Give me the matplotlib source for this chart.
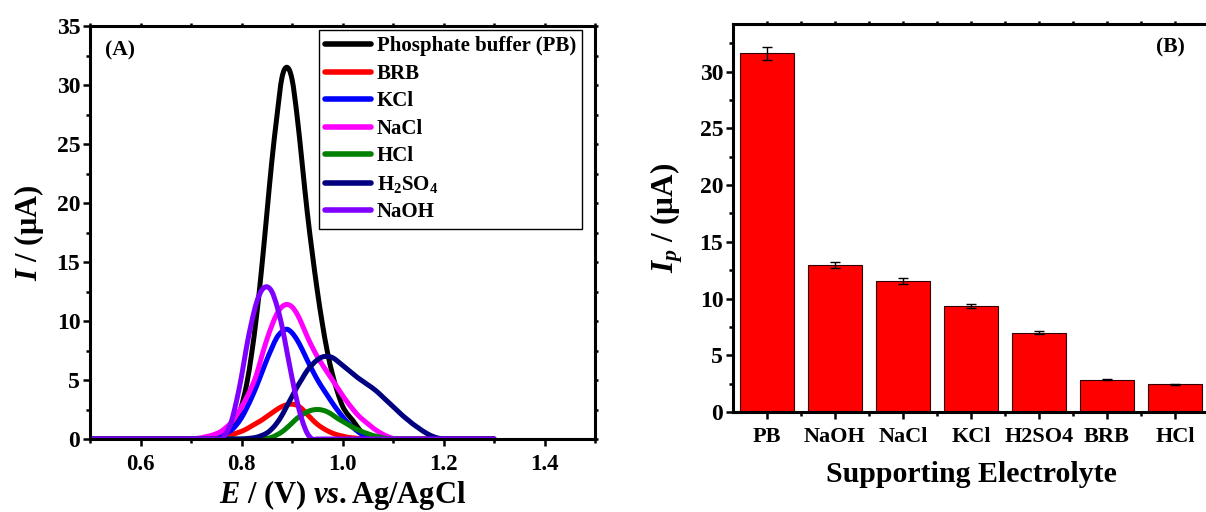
import numpy as np
import matplotlib
matplotlib.use("Agg")
import matplotlib.pyplot as plt
from matplotlib.path import Path
from matplotlib.patches import PathPatch
from matplotlib.ticker import MultipleLocator, FixedLocator

plt.rcParams["font.family"] = ["Liberation Serif", "DejaVu Serif"]
plt.rcParams["font.weight"] = "bold"
plt.rcParams["mathtext.fontset"] = "custom"
plt.rcParams["mathtext.rm"] = "Liberation Serif:bold"
plt.rcParams["mathtext.bf"] = "Liberation Serif:bold"
plt.rcParams["mathtext.it"] = "Liberation Serif:italic:bold"

# --- panel A: DPV curves, potential grid 0.70 .. 1.20 V ---
potential = np.round(np.arange(0.70, 1.2001, 0.01), 2)

i_pb = [0, 0, 0, 0, 0, 0, 0,
        0.3, 0.8, 1.6, 2.8, 4.6, 7.2, 10.5, 14.5, 19.0, 23.5, 27.3, 30.6, 31.5,
        30.5, 27.4, 23.4, 19.3, 15.8, 12.6, 9.8, 7.4, 5.5, 4.0, 2.8, 2.1, 1.6,
        1.0, 0.5, 0.2,
        0, 0, 0, 0, 0, 0, 0, 0, 0, 0, 0, 0, 0, 0, 0]
i_brb = [0, 0, 0, 0,
         0.05, 0.1, 0.15, 0.25, 0.35, 0.5, 0.65, 0.85, 1.1, 1.35, 1.6, 1.9,
         2.2, 2.5, 2.75, 2.9, 2.95, 2.85, 2.55, 2.1, 1.65, 1.25, 0.95, 0.7,
         0.5, 0.35, 0.25, 0.15, 0.1, 0.05,
         0, 0, 0, 0, 0, 0, 0, 0, 0, 0, 0, 0, 0, 0, 0, 0, 0]
i_kcl = [0, 0, 0, 0,
         0.05, 0.15, 0.3, 0.5, 0.75, 1.2, 1.8, 2.6, 3.5, 4.5, 5.6, 6.7, 7.7,
         8.6, 9.1, 9.3, 9.0, 8.4, 7.6, 6.7, 5.85, 5.05, 4.35, 3.7, 3.05, 2.45,
         1.9, 1.4, 1.0, 0.65, 0.35, 0.15,
         0, 0, 0, 0, 0, 0, 0, 0, 0, 0, 0, 0, 0, 0, 0]
i_nacl = [0, 0.05, 0.1, 0.2, 0.3, 0.45, 0.65, 1.0, 1.4, 2.0, 2.7, 3.5, 4.4,
          5.5, 7.0, 8.4, 9.6, 10.6, 11.2, 11.4, 11.2, 10.6, 9.7, 8.7, 7.8,
          7.0, 6.3, 5.65, 5.0, 4.35, 3.7, 3.1, 2.55, 2.05, 1.65, 1.3, 0.95,
          0.65, 0.4, 0.2, 0.05,
          0, 0, 0, 0, 0, 0, 0, 0, 0, 0]
i_hcl = [0, 0, 0, 0, 0, 0, 0, 0, 0, 0, 0, 0, 0, 0, 0,
         0.05, 0.15, 0.35, 0.6, 0.95, 1.35, 1.75, 2.05, 2.3, 2.45, 2.5, 2.45,
         2.3, 2.05, 1.75, 1.5, 1.25, 1.0, 0.8, 0.6, 0.45, 0.3, 0.2, 0.1, 0.03,
         0, 0, 0, 0, 0, 0, 0, 0, 0, 0, 0]
i_h2so4 = [0, 0, 0, 0, 0, 0, 0, 0, 0, 0, 0,
           0.03, 0.08, 0.15, 0.3, 0.5, 0.85, 1.35, 2.0, 2.8, 3.6, 4.4, 5.1,
           5.8, 6.3, 6.7, 6.95, 7.0, 6.9, 6.6, 6.25, 5.9, 5.55, 5.2, 4.9, 4.6,
           4.3, 3.95, 3.55, 3.15, 2.75, 2.35, 1.95, 1.6, 1.25, 0.95, 0.65, 0.4,
           0.2, 0.07,
           0]
i_naoh = [0, 0, 0, 0, 0, 0, 0,
          0.5, 1.5, 3.2, 5.3, 7.8, 9.9, 11.6, 12.6, 12.9, 12.5, 11.3, 9.6,
          7.4, 5.2, 3.2, 1.6, 0.5,
          0, 0, 0, 0, 0, 0, 0, 0, 0, 0, 0, 0, 0, 0, 0, 0, 0, 0, 0, 0, 0, 0,
          0, 0, 0, 0, 0]

scan_start, scan_end = 0.5, 1.3

curve_labels = ["Phosphate buffer (PB)", "BRB", "KCl", "NaCl", "HCl",
                r"H$_2$SO$_4$", "NaOH"]
curve_data = [i_pb, i_brb, i_kcl, i_nacl, i_hcl, i_h2so4, i_naoh]
curve_colors = ["#000000", "#ff0000", "#0000ff", "#ff00ff", "#008000",
                "#000080", "#8000ff"]

# --- panel B: peak currents ---
electrolytes = ["PB", "NaOH", "NaCl", "KCl", "H2SO4", "BRB", "HCl"]
peak_current = [31.6, 12.95, 11.55, 9.35, 6.98, 2.84, 2.44]
peak_error = [0.6, 0.28, 0.27, 0.17, 0.12, 0.05, 0.03]


def spline_path(x, y, x0, x1):
    # flat baseline, then a smooth (catmull-rom style) line through the points
    pts = np.column_stack([x, y])
    verts = [(x0, 0.0), (pts[0][0], pts[0][1])]
    codes = [Path.MOVETO, Path.LINETO]
    n = len(pts)
    for i in range(n - 1):
        p0 = pts[max(i - 1, 0)]
        p1, p2 = pts[i], pts[i + 1]
        p3 = pts[min(i + 2, n - 1)]
        verts += [tuple(p1 + (p2 - p0) / 6), tuple(p2 - (p3 - p1) / 6),
                  tuple(p2)]
        codes += [Path.CURVE4] * 3
    verts.append((x1, 0.0))
    codes.append(Path.LINETO)
    return Path(verts, codes)


fig = plt.figure(figsize=(12.06, 5.12), dpi=100)

# panel A
ax1 = fig.add_axes([90 / 1206, 73 / 512, 505 / 1206, 413 / 512])
for vals, lab, col in zip(curve_data, curve_labels, curve_colors):
    p = spline_path(potential, np.asarray(vals, float), scan_start, scan_end)
    ax1.add_patch(PathPatch(p, facecolor="none", edgecolor=col, lw=3.6,
                            capstyle="round", joinstyle="round"))
    ax1.plot([], [], color=col, lw=4, label=lab, solid_capstyle="round")

ax1.set_xlim(0.5, 1.5)
ax1.set_ylim(0, 35)
ax1.xaxis.set_major_locator(FixedLocator([0.6, 0.8, 1.0, 1.2, 1.4]))
ax1.xaxis.set_minor_locator(MultipleLocator(0.1))
ax1.yaxis.set_major_locator(MultipleLocator(5))
ax1.yaxis.set_minor_locator(MultipleLocator(2.5))
ax1.xaxis.set_major_formatter(plt.FuncFormatter(lambda v, p: f"{v:.1f}"))
ax1.set_xlabel(r"$E$ / (V) $vs.$Ag/AgCl", fontsize=22, fontweight="bold")
ax1.set_ylabel(r"$I$ / (μA)", fontsize=22, fontweight="bold")
ax1.xaxis.set_label_coords(0.5, -0.095)
ax1.yaxis.set_label_coords(-0.088, 0.5)
ax1.text(0.03, 0.94, "(A)", transform=ax1.transAxes, fontsize=15.5,
         fontweight="bold", va="center", ha="left")

leg = ax1.legend(loc="upper right", bbox_to_anchor=(0.975, 0.99),
                 borderaxespad=0, fontsize=15, frameon=True, fancybox=False,
                 edgecolor="black", framealpha=1, handlelength=2.2,
                 handletextpad=0.3, labelspacing=0.36, borderpad=0.3)
leg.get_frame().set_linewidth(1.0)

# panel B
ax2 = fig.add_axes([733 / 1206, 100 / 512, 476 / 1206, 388 / 512])
pos = np.arange(1, len(electrolytes) + 1)
ax2.bar(pos, peak_current, width=0.8, color="#ff0000", edgecolor="#330000",
        linewidth=0.8, yerr=peak_error, capsize=3.5,
        error_kw=dict(elinewidth=1.0, capthick=1.0, ecolor="black"))
ax2.set_xlim(0.5, len(electrolytes) + 0.5)
ax2.set_ylim(0, 34.2)
ax2.set_xticks(pos)
ax2.set_xticklabels(electrolytes)
ax2.xaxis.set_minor_locator(FixedLocator(pos[:-1] + 0.5))
ax2.yaxis.set_major_locator(MultipleLocator(5))
ax2.yaxis.set_minor_locator(MultipleLocator(2.5))
ax2.set_xlabel("Supporting Electrolyte", fontsize=21.5, fontweight="bold")
ax2.set_ylabel(r"$I_p$ / (μA)", fontsize=22.5, fontweight="bold")
ax2.xaxis.set_label_coords(0.5, -0.125)
ax2.yaxis.set_label_coords(-0.1, 0.5)
ax2.text(0.918, 0.94, "(B)", transform=ax2.transAxes, fontsize=15.5,
         fontweight="bold", va="center", ha="center")

for ax in (ax1, ax2):
    for s in ax.spines.values():
        s.set_linewidth(2.2)
    ax.tick_params(which="both", direction="out", width=1.8,
                   top=True, right=True)
    ax.tick_params(axis="y", labelsize=17)
    ax.tick_params(axis="x", labelsize=16.5)
    ax.tick_params(which="major", length=5)
    ax.tick_params(which="minor", length=3)
    ax.tick_params(axis="x", which="major", pad=6)
    ax.tick_params(axis="y", which="major", pad=2)
    for t in ax.get_xticklabels() + ax.get_yticklabels():
        t.set_fontweight("bold")
ax2.tick_params(axis="x", labelsize=16)
# top/right ticks are short
for ax in (ax1, ax2):
    for tk in ax.xaxis.get_major_ticks() + ax.xaxis.get_minor_ticks():
        tk.tick2line.set_markersize(2.5)
    for tk in ax.yaxis.get_major_ticks() + ax.yaxis.get_minor_ticks():
        tk.tick2line.set_markersize(2.5)

fig.savefig("out.png", dpi=100)
